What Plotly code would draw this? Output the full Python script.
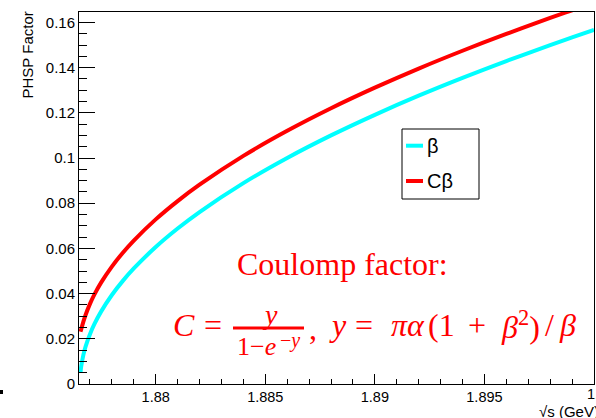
import plotly.graph_objects as go

# Centre-of-mass energy sqrt(s) in GeV
sqrt_s = [1.876567, 1.8766, 1.8767, 1.8768, 1.877, 1.8772, 1.8775, 1.878, 1.8785,
          1.879, 1.88, 1.881, 1.882, 1.884, 1.886, 1.888, 1.89, 1.892, 1.894,
          1.896, 1.898, 1.899, 1.9]
# Phase-space factor beta
beta = [0.0050, 0.00773, 0.01289, 0.01652, 0.02204, 0.02644, 0.03191, 0.03937, 0.04562,
        0.05111, 0.06061, 0.06879, 0.07609, 0.08888, 0.10001, 0.11000, 0.11911, 0.12756,
        0.13545, 0.14289, 0.14994, 0.15333, 0.15665]
# Coulomb-corrected phase-space factor C*beta
c_beta = [0.02316, 0.02417, 0.02759, 0.03055, 0.03546, 0.03955, 0.04474, 0.05196, 0.05807,
          0.06346, 0.07284, 0.08094, 0.08820, 0.10094, 0.11203, 0.12201, 0.13111, 0.13957,
          0.14746, 0.15490, 0.16197, 0.16536, 0.16869]

x_tickvals = [1.88, 1.885, 1.89, 1.895, 1.9]
x_ticktext = ["1.88", "1.885", "1.89", "1.895", "1.9"]
y_tickvals = [0, 0.02, 0.04, 0.06, 0.08, 0.1, 0.12, 0.14, 0.16]
y_ticktext = ["0", "0.02", "0.04", "0.06", "0.08", "0.1", "0.12", "0.14", "0.16"]

CYAN = "#00ffff"
RED = "#ff0000"

# frame geometry in pixels
L, R, T, B = 79, 594, 12, 384
WIDTH, HEIGHT = 596, 418


def px(x):
    return (x - L) / (R - L)


def py(y):
    return (B - y) / (B - T)


fig = go.Figure()
fig.add_trace(go.Scatter(x=sqrt_s, y=beta, mode="lines", name="β",
                         line=dict(color=CYAN, width=4, shape="spline")))
fig.add_trace(go.Scatter(x=sqrt_s, y=c_beta, mode="lines", name="Cβ",
                         line=dict(color=RED, width=4, shape="spline")))

sans = "Liberation Sans, Arial, sans-serif"
x_range = [1.8765, 1.9]

# the last x label sits on the page edge, so it is placed as an annotation
# (it runs off the page and is cut there)
edge_labels = [(v, t) for v, t in zip(x_tickvals, x_ticktext) if v >= x_range[1]]
inner_text = [t if v < x_range[1] else "" for v, t in zip(x_tickvals, x_ticktext)]

fig.update_xaxes(
    range=x_range, showgrid=False, zeroline=False, automargin=False,
    showline=True, linecolor="black", linewidth=1, mirror=True,
    tickmode="array", tickvals=x_tickvals, ticktext=inner_text,
    ticks="inside", ticklen=10, tickcolor="black", tickwidth=1,
    minor=dict(ticks="inside", ticklen=5, tick0=1.88, dtick=0.001,
               tickcolor="black", tickwidth=1, showgrid=False),
    tickfont=dict(family=sans, size=14.5, color="black"),
)
fig.update_yaxes(
    range=[0, 0.1646], showgrid=False, zeroline=False, automargin=False,
    showline=True, linecolor="black", linewidth=1, mirror=True,
    tickmode="array", tickvals=y_tickvals, ticktext=y_ticktext,
    ticks="inside", ticklen=16, tickcolor="black", tickwidth=1,
    minor=dict(ticks="inside", ticklen=8, tick0=0, dtick=0.005,
               tickcolor="black", tickwidth=1, showgrid=False),
    tickfont=dict(family=sans, size=15, color="black"),
)

shapes = []
annotations = []

for v, t in edge_labels:
    annotations.append(dict(text=t, xref="x", yref="paper", x=v, y=py(394),
                            xanchor="center", yanchor="middle", xshift=3,
                            showarrow=False,
                            font=dict(family=sans, size=14.5, color="black")))

# legend box drawn by hand
shapes.append(dict(type="rect", xref="paper", yref="paper",
                   x0=px(402), x1=px(479), y0=py(199), y1=py(129),
                   line=dict(color="black", width=1), fillcolor="white", layer="above"))
for yy, col, label in [(145.7, CYAN, "β"), (181, RED, "Cβ")]:
    shapes.append(dict(type="line", xref="paper", yref="paper",
                       x0=px(406), x1=px(423), y0=py(yy), y1=py(yy),
                       line=dict(color=col, width=4), layer="above"))
    annotations.append(dict(text=label, xref="paper", yref="paper",
                            x=px(425), y=py(yy), xanchor="left", yanchor="middle",
                            showarrow=False,
                            font=dict(family=sans, size=20, color="black")))

# axis titles
annotations.append(dict(text="PHSP Factor", xref="paper", yref="paper",
                        x=px(27), y=py(10), xanchor="center", yanchor="top",
                        textangle=-90, showarrow=False,
                        font=dict(family=sans, size=15, color="black")))
annotations.append(dict(text="√s (GeV)", xref="paper", yref="paper",
                        x=px(601), y=py(411), xanchor="right", yanchor="middle",
                        showarrow=False,
                        font=dict(family=sans, size=15, color="black")))

# Coulomb factor note
serif = "Liberation Serif, Times New Roman, serif"
annotations.append(dict(text="Coulomp factor:", xref="paper", yref="paper",
                        x=px(342), y=py(264), xanchor="center", yanchor="middle",
                        showarrow=False, font=dict(family=serif, size=32, color=RED)))


def formula_piece(text, x, y, size=32, anchor="center"):
    annotations.append(dict(text=text, xref="paper", yref="paper",
                            x=px(x), y=py(y), xanchor=anchor, yanchor="middle",
                            showarrow=False, font=dict(family=serif, size=size, color=RED)))


formula_piece("<i>C</i>", 184, 325)
formula_piece("=", 213, 325)
formula_piece("<i>y</i>", 270, 314, size=28)
shapes.append(dict(type="line", xref="paper", yref="paper",
                   x0=px(233), x1=px(304), y0=py(328), y1=py(328),
                   line=dict(color=RED, width=3), layer="above"))
formula_piece("1−<i>e</i>", 256, 346, size=26)
formula_piece("−<i>y</i>", 290, 340, size=20)
formula_piece(",", 313, 328)
formula_piece("<i>y</i>", 338, 325)
formula_piece("=", 364, 325)
formula_piece("<i>πα</i>", 389, 325, anchor="left")
formula_piece("(1", 426, 325, anchor="left")
formula_piece("+", 477, 325)
formula_piece("<i>β</i><sup>2</sup>)", 499, 325, anchor="left")
formula_piece("/", 549, 325)
formula_piece("<i>β</i>", 567, 325)

# small mark at the lower-left corner
shapes.append(dict(type="rect", xref="paper", yref="paper",
                   x0=px(0), x1=px(3), y0=py(394), y1=py(390),
                   line=dict(width=0), fillcolor="black"))

fig.update_layout(
    width=WIDTH, height=HEIGHT,
    margin=dict(l=L, r=WIDTH - R, t=T, b=HEIGHT - B),
    paper_bgcolor="white", plot_bgcolor="white",
    showlegend=False,
    shapes=shapes, annotations=annotations,
)

fig.write_html("out.html")
